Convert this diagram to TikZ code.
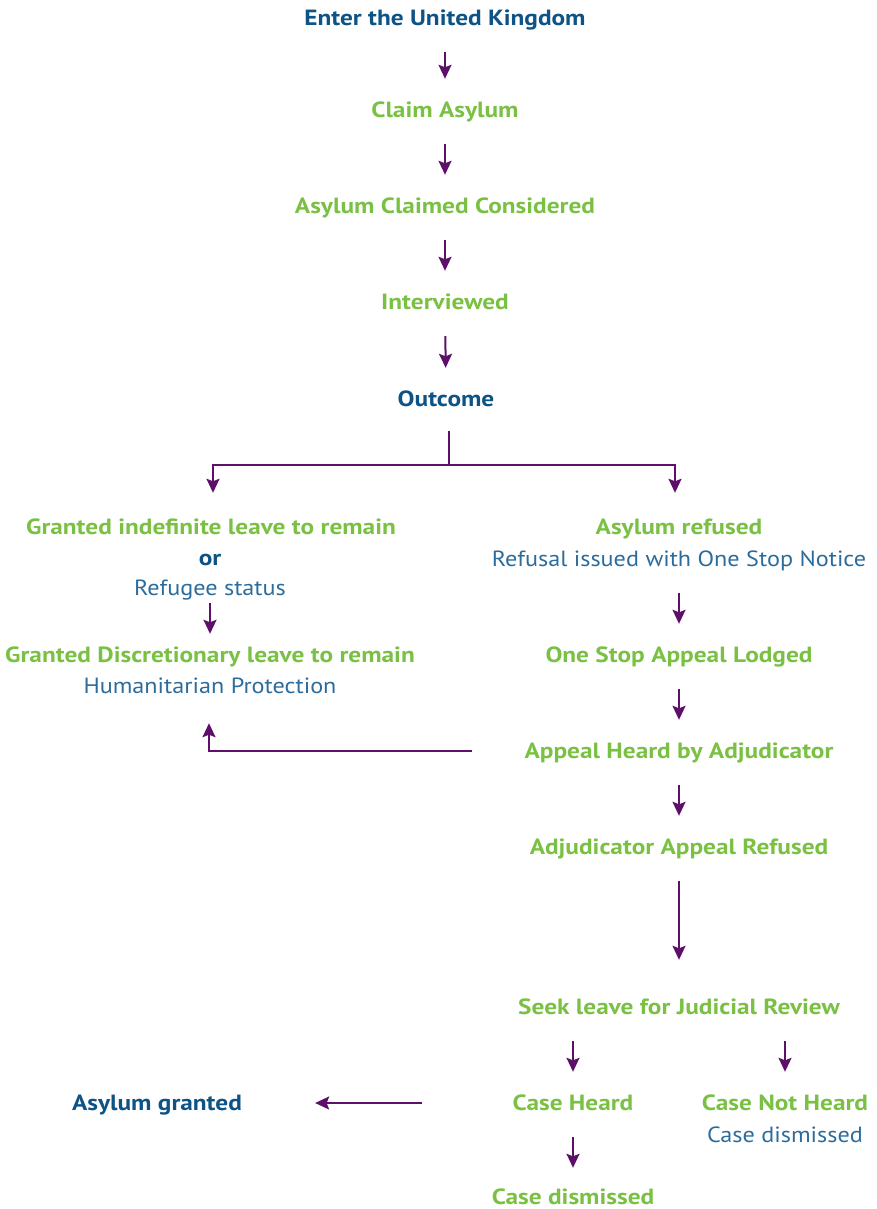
\documentclass[tikz,border=0pt]{standalone}
\usepackage{fontspec}
\setmainfont{PT Sans}[FakeStretch=1.10,BoldFeatures={FakeStretch=1.15}]
\usetikzlibrary{arrows.meta}
\definecolor{dblue}{HTML}{0D5386}
\definecolor{lgreen}{HTML}{7AC143}
\definecolor{tblue}{HTML}{2C6C9C}
\definecolor{purp}{HTML}{5E0F6A}
\begin{document}
\begin{tikzpicture}[x=1pt,y=-1pt,
  base/.style={inner sep=0pt,text height=16.5pt,text depth=1.5pt,font=\fontsize{22}{26}\selectfont},
  head/.style={base,text=dblue,font=\fontsize{22}{26}\selectfont\bfseries},
  grn/.style={base,text=lgreen,font=\fontsize{22}{26}\selectfont\bfseries},
  sub/.style={base,text=tblue},
  conn/.style={draw=purp,line width=2pt},
  arr/.style={conn,-{Stealth[length=14pt,width=13pt,inset=2.5pt]},shorten <=25pt,shorten >=22pt}]
\useasboundingbox (0,0) rectangle (876,1209);
\node[head] (enter) at (445,18) {Enter the United Kingdom};
\node[grn] (claim) at (445,110) {Claim Asylum};
\node[grn] (cons) at (445,206) {Asylum Claimed Considered};
\node[grn] (int) at (445,302) {Interviewed};
\node[head] (out) at (446,399) {Outcome};
\node[grn] (gil) at (211,527) {Granted indefinite leave to remain};
\node[head] (or) at (210,558) {or};
\node[sub] (ref) at (210,588) {Refugee status};
\node[grn] (gdl) at (210,655) {Granted Discretionary leave to remain};
\node[sub] (hum) at (210,686) {Humanitarian Protection};
\node[grn] (asr) at (679,527) {Asylum refused};
\node[sub] (notice) at (679,559) {Refusal issued with One Stop Notice};
\node[grn] (osa) at (679,655) {One Stop Appeal Lodged};
\node[grn] (aha) at (679,751) {Appeal Heard by Adjudicator};
\node[grn] (aar) at (679,847) {Adjudicator Appeal Refused};
\node[grn] (seek) at (679,1007) {Seek leave for Judicial Review};
\node[grn] (ch) at (573,1103) {Case Heard};
\node[grn] (cnh) at (785,1103) {Case Not Heard};
\node[sub] (cnhd) at (785,1135) {Case dismissed};
\node[head] (ag) at (157,1103) {Asylum granted};
\node[grn] (cd) at (573,1197) {Case dismissed};
\coordinate (fork) at (449,465);
\draw[arr] (enter) -- (claim);
\draw[arr] (claim) -- (cons);
\draw[arr] (cons) -- (int);
\draw[arr] (int) -- (out);
\draw[conn] ([yshift=-23pt]out.south -| fork) -- (fork);
\draw[arr,shorten <=0pt,shorten >=25pt] (fork) -| ([xshift=2pt]gil.north);
\draw[arr,shorten <=0pt,shorten >=25pt] (fork) -| ([xshift=-4pt]asr.north);
\draw[arr,shorten <=6pt,shorten >=12pt] (ref) -- (gdl);
\draw[arr] (notice) -- (osa);
\draw[arr] (osa) -- (aha);
\draw[arr] (aha) -- (aar);
\draw[arr,shorten >=38pt] (aar) -- (seek);
\draw[arr,shorten <=52pt,shorten >=28pt] (aha.west) -| ([xshift=-1pt]hum.south);
\draw[arr] (seek.south -| ch.north) -- (ch.north);
\draw[arr] (seek.south -| cnh.north) -- (cnh.north);
\draw[arr,shorten >=20pt] (ch) -- (cd);
\draw[arr,shorten <=90pt,shorten >=73pt] (ch.west) -- (ag.east);
\end{tikzpicture}
\end{document}
